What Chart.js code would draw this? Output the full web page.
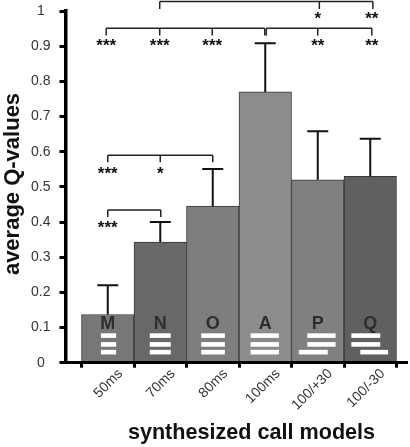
<!DOCTYPE html>
<html>
<head>
<meta charset="utf-8">
<script src="https://cdn.jsdelivr.net/npm/chart.js@4/dist/chart.umd.min.js"></script>
<style>
  html, body { margin: 0; padding: 0; background: #fff; }
  canvas { display: block; }
</style>
</head>
<body>
<canvas id="chart" width="410" height="447"></canvas>
<script>
const categories = ['50ms', '70ms', '80ms', '100ms', '100/+30', '100/-30'];
const letters = ['M', 'N', 'O', 'A', 'P', 'Q'];
const centers = [0.5, 1.5, 2.5, 3.5, 4.5, 5.5];
const values = [0.137, 0.343, 0.445, 0.77, 0.52, 0.53];
const errorTops = [0.22, 0.4, 0.551, 0.908, 0.658, 0.637];
const barColors = ['#777777', '#686868', '#7e7e7e', '#8c8c8c', '#808080', '#606060'];
const yTicks = [0, 0.1, 0.2, 0.3, 0.4, 0.5, 0.6, 0.7, 0.8, 0.9, 1];
const xTicks = [0, 1, 2, 3, 4, 5, 6];

// significance brackets, in data units: [x positions], y of the bar, y of the drops
const brackets = [
  [[1.49, 4.53, 5.55], 1.027, 1.006],
  [[0.47, 1.49, 2.49, 3.49], 0.951, 0.93],
  [[3.52, 4.5, 5.53], 0.951, 0.93],
  [[0.5, 1.5, 2.5], 0.59, 0.57],
  [[0.5, 1.51], 0.434, 0.414]
];
// [x, y, text]
const stars = [
  [4.5, 0.985, '*'], [5.53, 0.985, '**'],
  [0.47, 0.908, '***'], [1.49, 0.908, '***'], [2.49, 0.908, '***'],
  [4.5, 0.908, '**'], [5.53, 0.908, '**'],
  [0.5, 0.545, '***'], [1.5, 0.545, '*'],
  [0.5, 0.392, '***']
];
// white call pattern dashes: [x from, x to] per row, rows top to bottom
const dashRows = [0.077, 0.052, 0.03];
const dashes = [
  [[0.37, 0.66], [0.37, 0.66], [0.37, 0.66]],
  [[1.3, 1.7], [1.3, 1.7], [1.3, 1.7]],
  [[2.28, 2.73], [2.28, 2.73], [2.28, 2.73]],
  [[3.22, 3.76], [3.22, 3.76], [3.22, 3.76]],
  [[4.3, 4.84], [4.3, 4.84], [4.14, 4.69]],
  [[5.14, 5.69], [5.14, 5.69], [5.31, 5.84]]
];

const annotations = {
  id: 'annotations',
  afterDatasetsDraw(chart) {
    const { ctx, scales: { x, y } } = chart;
    ctx.save();

    // error bars
    ctx.strokeStyle = '#111';
    ctx.lineWidth = 2;
    centers.forEach((c, i) => {
      const px = x.getPixelForValue(c);
      ctx.beginPath();
      ctx.moveTo(px, y.getPixelForValue(values[i]));
      ctx.lineTo(px, y.getPixelForValue(errorTops[i]));
      ctx.moveTo(px - 10.5, y.getPixelForValue(errorTops[i]));
      ctx.lineTo(px + 10.5, y.getPixelForValue(errorTops[i]));
      ctx.stroke();
    });

    // brackets
    ctx.lineWidth = 1.5;
    ctx.strokeStyle = '#222';
    brackets.forEach(([xs, top, drop]) => {
      ctx.beginPath();
      ctx.moveTo(x.getPixelForValue(xs[0]), y.getPixelForValue(top));
      ctx.lineTo(x.getPixelForValue(xs[xs.length - 1]), y.getPixelForValue(top));
      xs.forEach(v => {
        ctx.moveTo(x.getPixelForValue(v), y.getPixelForValue(top));
        ctx.lineTo(x.getPixelForValue(v), y.getPixelForValue(drop));
      });
      ctx.stroke();
    });

    // stars
    ctx.fillStyle = '#111';
    ctx.font = 'bold 17px "Liberation Sans"';
    ctx.textAlign = 'center';
    ctx.textBaseline = 'middle';
    stars.forEach(([sx, sy, text]) => {
      ctx.fillText(text, x.getPixelForValue(sx), y.getPixelForValue(sy) + 3);
    });

    // bar letters
    ctx.fillStyle = '#2e2e2e';
    ctx.font = 'bold 18px "Liberation Sans"';
    letters.forEach((l, i) => {
      ctx.fillText(l, x.getPixelForValue(centers[i]), y.getPixelForValue(0.111));
    });

    // call pattern dashes
    ctx.fillStyle = '#fff';
    dashes.forEach(rows => {
      rows.forEach(([from, to], r) => {
        const x0 = x.getPixelForValue(from);
        const x1 = x.getPixelForValue(to);
        const yc = y.getPixelForValue(dashRows[r]);
        ctx.fillRect(x0, yc - 2.3, x1 - x0, 4.6);
      });
    });

    // axis titles sit off centre in the reference
    ctx.fillStyle = '#111';
    ctx.font = 'bold 21.6px "Liberation Sans"';
    ctx.fillText('synthesized call models', 251.5, 433);
    ctx.font = 'bold 22px "Liberation Sans"';
    ctx.textBaseline = 'alphabetic';
    ctx.translate(19, 184);
    ctx.rotate(-Math.PI / 2);
    ctx.fillText('average Q-values', 0, 0);
    ctx.restore();
  }
};

function noMargins(axis) {
  axis.paddingTop = 0;
  axis.paddingBottom = 0;
  axis.paddingLeft = 0;
  axis.paddingRight = 0;
}

new Chart(document.getElementById('chart'), {
  type: 'bar',
  data: {
    datasets: [{
      data: centers.map((c, i) => ({ x: c, y: values[i] })),
      backgroundColor: barColors,
      borderColor: '#383838',
      borderWidth: 1,
      borderSkipped: false,
      categoryPercentage: 1,
      barPercentage: 1,
      xAxisID: 'x',
      yAxisID: 'y'
    }]
  },
  options: {
    responsive: false,
    animation: false,
    events: [],
    layout: { padding: { top: 11, right: 3, left: 0, bottom: 0 } },
    plugins: { legend: { display: false }, tooltip: { enabled: false } },
    scales: {
      x: {
        type: 'linear',
        position: 'bottom',
        weight: 0,
        offset: false,
        min: -0.305,
        max: 6.2,
        afterBuildTicks(axis) { axis.ticks = xTicks.map(value => ({ value })); },
        afterFit(axis) { axis.height = 5; noMargins(axis); },
        border: { display: true, color: '#000', width: 3, z: 2 },
        grid: { offset: false, drawOnChartArea: false, drawTicks: true, tickLength: 5, tickWidth: 3, tickColor: '#000' },
        ticks: { display: false, autoSkip: false }
      },
      xLabels: {
        type: 'linear',
        position: 'bottom',
        weight: 1,
        offset: false,
        min: -0.305,
        max: 6.2,
        afterBuildTicks(axis) { axis.ticks = centers.map(c => ({ value: c + 0.24 })); },
        afterFit(axis) { axis.height = 79.3; noMargins(axis); },
        border: { display: false },
        grid: { display: false },
        ticks: {
          autoSkip: false,
          minRotation: 45,
          maxRotation: 45,
          padding: -10,
          color: '#333',
          font: { family: '"Liberation Sans"', size: 14 },
          callback: (value, index) => categories[index]
        }
      },
      y: {
        min: 0,
        max: 1,
        afterBuildTicks(axis) { axis.ticks = yTicks.map(value => ({ value })); },
        afterFit(axis) { axis.width = 65.5; noMargins(axis); },
        border: { display: true, color: '#000', width: 3.5, z: 2 },
        grid: { drawOnChartArea: false, tickLength: 6, tickWidth: 3, tickColor: '#000' },
        ticks: {
          autoSkip: false,
          align: 'center',
          crossAlign: 'center',
          padding: 9,
          color: '#333',
          font: { family: '"Liberation Sans"', size: 14 },
          callback: value => String(value)
        }
      }
    }
  },
  plugins: [annotations]
});
</script>
</body>
</html>
